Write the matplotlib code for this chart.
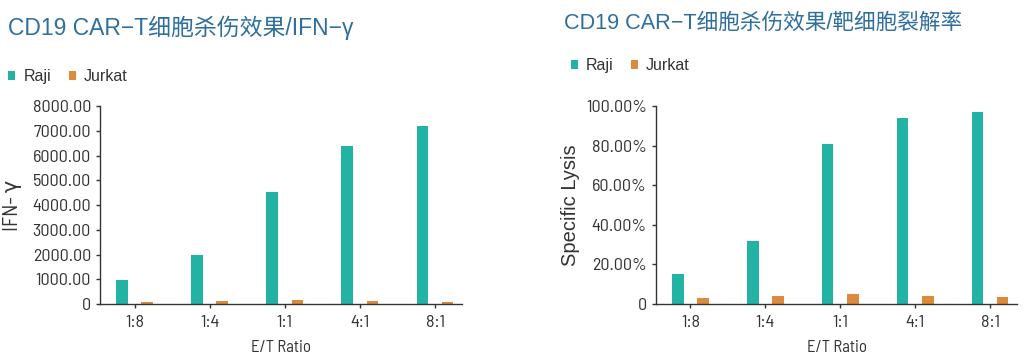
import matplotlib
matplotlib.use('Agg')
import matplotlib.pyplot as plt
import numpy as np
from matplotlib.ticker import FuncFormatter

ratios = ['1:8', '1:4', '1:1', '4:1', '8:1']
ifn_raji = [980, 1980, 4520, 6400, 7180]
ifn_jurkat = [100, 130, 180, 130, 100]
lysis_raji = [0.15, 0.32, 0.81, 0.94, 0.97]
lysis_jurkat = [0.029, 0.040, 0.049, 0.042, 0.037]

teal = '#22b3a4'
orange = '#dc8b3c'
title_blue = '#2f6f9d'
narrow = ['Barlow Semi Condensed', 'DejaVu Sans']
cjk = ['Liberation Sans', 'Noto Sans CJK SC', 'DejaVu Sans']

fig = plt.figure(figsize=(10.30, 3.64), dpi=100)
ax1 = fig.add_axes([0.0971, 0.1648, 0.3515, 0.544])
ax2 = fig.add_axes([0.6369, 0.1648, 0.3505, 0.544])

x = np.arange(len(ratios))
w = 0.155
off = 0.168


def style(ax):
    for s in ['top', 'right']:
        ax.spines[s].set_visible(False)
    for s in ['left', 'bottom']:
        ax.spines[s].set_color('#333333')
        ax.spines[s].set_linewidth(1.0)
    ax.set_xlim(-0.46, 4.36)
    ax.set_xticks(x)
    ax.set_xticklabels(ratios)
    ax.tick_params(axis='both', length=3, width=1, color='#333333',
                   labelcolor='#333333', labelsize=13)
    ax.tick_params(axis='x', pad=5)
    for lab in ax.get_xticklabels() + ax.get_yticklabels():
        lab.set_family(narrow)
    ax.set_xlabel('E/T Ratio', family=narrow, fontsize=12, color='#333333', labelpad=7)


b1 = ax1.bar(x - off, ifn_raji, w, color=teal, label='Raji')
b2 = ax1.bar(x + off, ifn_jurkat, w, color=orange, label='Jurkat')
ax1.set_ylim(0, 8000)
ax1.set_yticks(np.arange(0, 8001, 1000))
ax1.yaxis.set_major_formatter(FuncFormatter(lambda v, p: '0' if v == 0 else f'{v:.2f}'))
style(ax1)
ax1.set_ylabel('IFN- γ', family=narrow, fontsize=15, color='#333333')
ax1.yaxis.set_label_coords(-0.215, 0.5)

ax2.bar(x - off, lysis_raji, w, color=teal, label='Raji')
ax2.bar(x + off, lysis_jurkat, w, color=orange, label='Jurkat')
ax2.set_ylim(0, 1.0)
ax2.set_yticks(np.arange(0, 1.01, 0.2))
ax2.yaxis.set_major_formatter(FuncFormatter(lambda v, p: '0' if v == 0 else f'{v*100:.2f}%'))
style(ax2)
ax2.set_ylabel('Specific Lysis', family=['Liberation Sans', 'DejaVu Sans'], fontsize=14.5,
               color='#333333')
ax2.yaxis.set_label_coords(-0.21, 0.5)

fig.text(0.008, 0.904, 'CD19 CAR−T细胞杀伤效果/IFN−γ', family=cjk, fontsize=16.5,
         color=title_blue, va='baseline')
fig.text(0.548, 0.921, 'CD19 CAR−T细胞杀伤效果/靶细胞裂解率', family=cjk, fontsize=15.6,
         color=title_blue, va='baseline')

for bx, by in [(-0.006, 0.85), (0.54, 0.88)]:
    fig.legend(handles=[b1, b2], loc='upper left', bbox_to_anchor=(bx, by), ncol=2,
               frameon=False, handlelength=0.45, handleheight=0.45, handletextpad=0.5,
               columnspacing=1.1, prop={'family': ['Liberation Sans', 'DejaVu Sans'], 'size': 11.5},
               labelcolor='#333333')

fig.savefig('out.png', dpi=100, facecolor='white')
